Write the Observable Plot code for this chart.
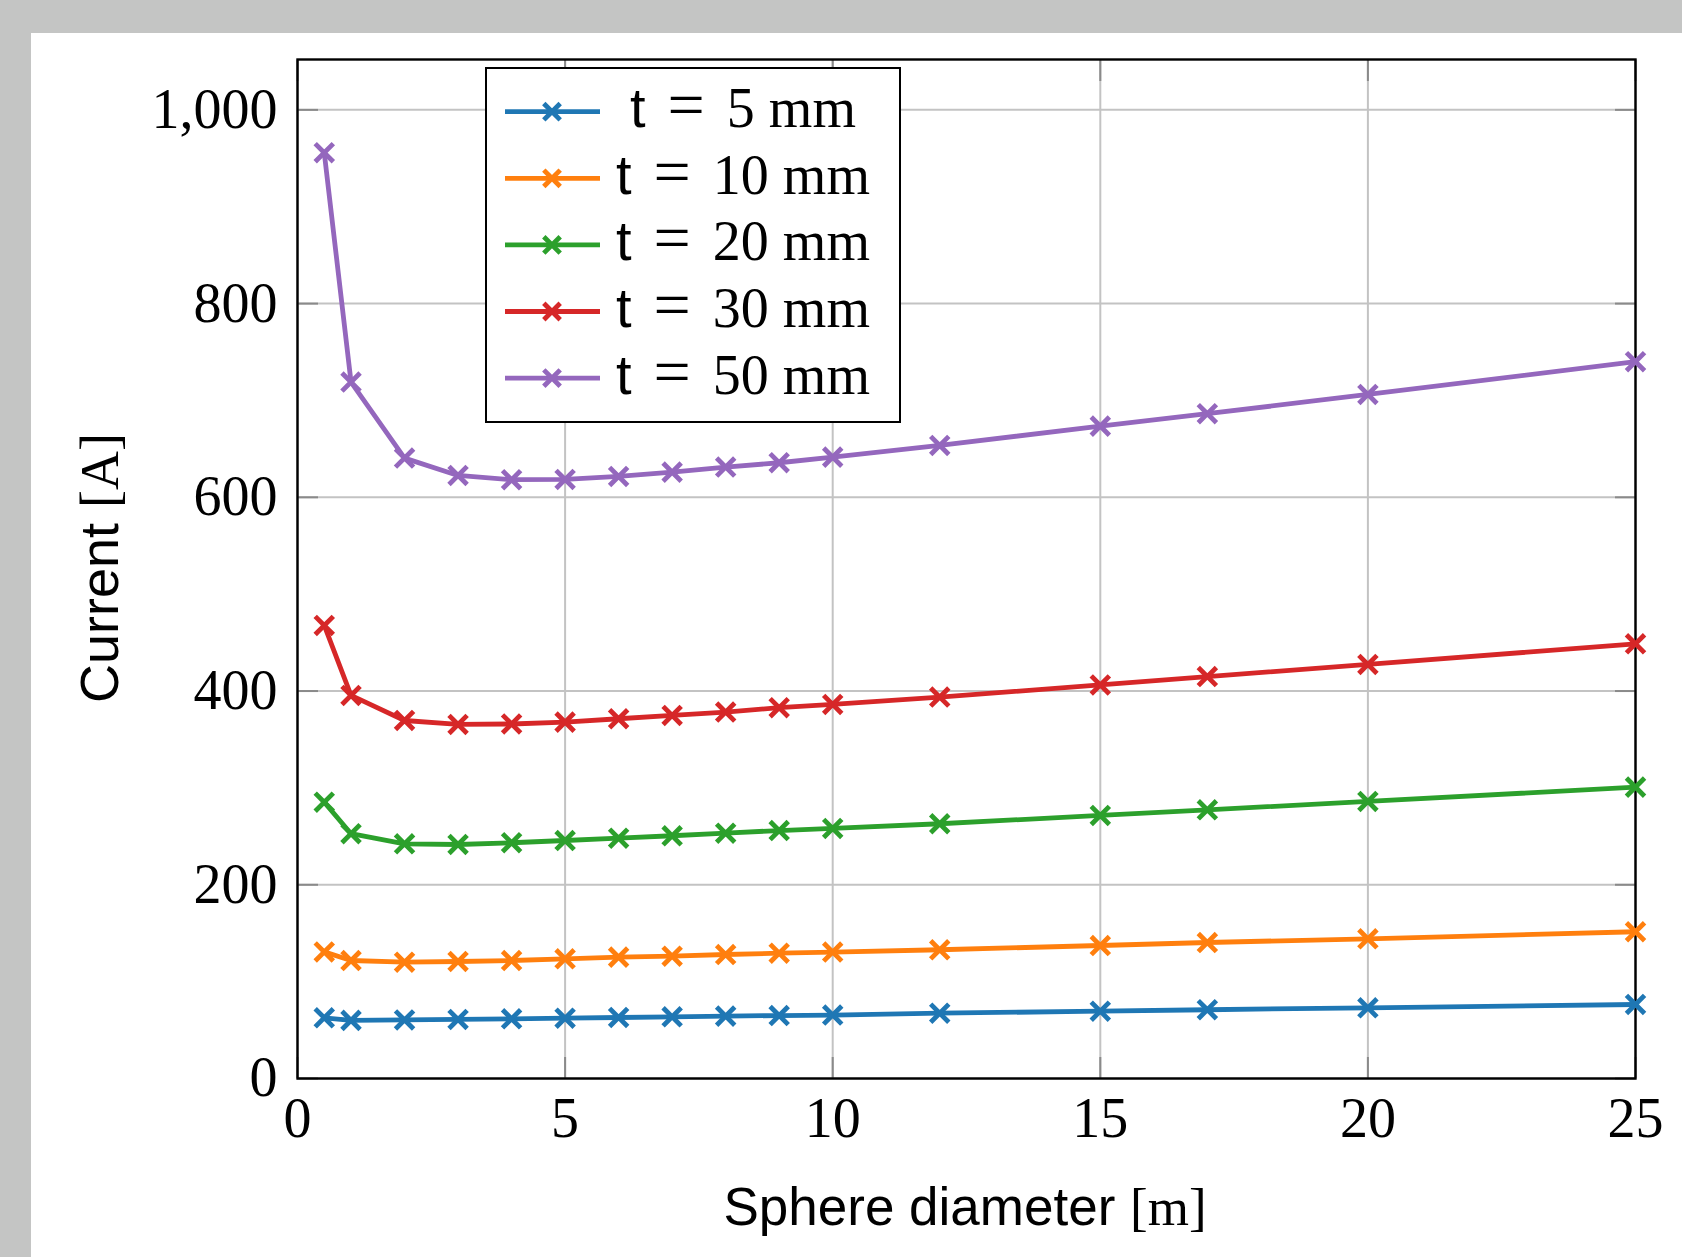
<!DOCTYPE html>
<html><head><meta charset="utf-8">
<script src="https://cdn.jsdelivr.net/npm/d3@7"></script>
<script src="https://cdn.jsdelivr.net/npm/@observablehq/plot@0.6"></script>
<style>
html,body{margin:0;padding:0;background:#c4c5c4;}
#page{position:relative;width:1682px;height:1257px;overflow:hidden;}
#paper{position:absolute;left:31px;top:33px;right:0;bottom:0;background:#fff;}
#chart{position:absolute;left:0;top:0;}
#overlay{position:absolute;left:0;top:0;}
</style></head><body>
<div id="page"><div id="paper"></div><div id="chart"></div><svg id="overlay" width="1682" height="1257"></svg></div>
<script>
// ---- data ----
const diameters = [0.5, 1, 2, 3, 4, 5, 6, 7, 8, 9, 10, 12, 15, 17, 20, 25];
const t5mm  = [62.7, 60.0, 60.5, 61.0, 61.6, 62.3, 63.0, 63.7, 64.4, 65.0, 65.5, 67.4, 69.5, 71.0, 73.0, 76.4];
const t10mm = [130.7, 121.8, 120.1, 120.8, 121.8, 123.6, 125.3, 126.3, 128.0, 129.4, 130.5, 132.9, 137.3, 140.4, 144.2, 151.5];
const t20mm = [285.3, 252.7, 242.3, 241.6, 243.4, 245.7, 248.1, 250.6, 253.3, 256.0, 258.2, 263.0, 271.6, 277.4, 286.0, 300.8];
const t30mm = [467.7, 395.5, 369.6, 365.5, 366.0, 367.9, 371.4, 374.8, 378.3, 382.8, 386.2, 393.8, 406.3, 415.0, 427.5, 448.8];
const t50mm = [955.8, 719.0, 640.5, 622.6, 618.2, 618.5, 621.6, 626.0, 631.2, 635.7, 641.5, 653.6, 673.5, 686.3, 706.2, 740.0];
const seriesValues = [t5mm, t10mm, t20mm, t30mm, t50mm];
const seriesNumbers = ["5", "10", "20", "30", "50"];
const seriesNames = ["t = 5 mm", "t = 10 mm", "t = 20 mm", "t = 30 mm", "t = 50 mm"];
const seriesColors = ["#1f77b4", "#ff7f0e", "#2ca02c", "#d62728", "#9467bd"];
const xTicks = [0, 5, 10, 15, 20, 25];
const yTicks = [0, 200, 400, 600, 800, 1000];
const xLabel = ["Sphere diameter ", "[m]"];
const yLabel = ["Current ", "[A]"];

const rows = seriesNames.flatMap((s, i) => diameters.map((d, j) => ({d, I: seriesValues[i][j], s})));

const SERIF = "'Liberation Serif', 'DejaVu Serif', serif";
const SANS = "'Liberation Sans', 'DejaVu Sans', sans-serif";
const FS = 56;
const LW = 4.8;

const chart = Plot.plot({
  width: 1682, height: 1257,
  marginLeft: 297, marginRight: 47, marginTop: 59, marginBottom: 179,
  x: {domain: [0, 25]},
  y: {domain: [0, 1052]},
  color: {domain: seriesNames, range: seriesColors},
  style: {background: "transparent", fontFamily: SERIF, fontSize: FS + "px", color: "black", overflow: "visible"},
  marks: [
    Plot.gridX(xTicks, {stroke: "#c3c3c3", strokeOpacity: 1, strokeWidth: 2}),
    Plot.gridY(yTicks, {stroke: "#c3c3c3", strokeOpacity: 1, strokeWidth: 2}),
    Plot.axisX(xTicks, {anchor: "bottom", tickSize: -21, stroke: "#8a8a8a", strokeWidth: 2, tickFormat: () => "", label: null}),
    Plot.axisX(xTicks, {anchor: "top", tickSize: -21, stroke: "#8a8a8a", strokeWidth: 2, tickFormat: () => "", label: null}),
    Plot.axisY(yTicks, {anchor: "left", tickSize: -21, stroke: "#8a8a8a", strokeWidth: 2, tickFormat: () => "", label: null}),
    Plot.axisY(yTicks, {anchor: "right", tickSize: -21, stroke: "#8a8a8a", strokeWidth: 2, tickFormat: () => "", label: null}),
    Plot.axisX(xTicks, {anchor: "bottom", tickSize: 0, tickPadding: 19, fontSize: FS, label: null}),
    Plot.axisY(yTicks, {anchor: "left", tickSize: 0, tickPadding: 20, fontSize: FS, tickFormat: d3.format(","), label: null}),
    Plot.frame({stroke: "black", strokeWidth: 2.4}),
    Plot.line(rows, {x: "d", y: "I", z: "s", stroke: "s", strokeWidth: LW}),
    Plot.dot(rows, {x: "d", y: "I", stroke: "s", symbol: "times", r: 8.3, strokeWidth: LW})
  ]
});
document.getElementById("chart").appendChild(chart);

// ---- overlay: axis labels and legend ----
const ov = d3.select("#overlay");
const xl = ov.append("text").attr("x", 965).attr("y", 1225).attr("text-anchor", "middle").attr("font-size", 53);
xl.append("tspan").attr("font-family", SANS).text(xLabel[0]);
xl.append("tspan").attr("font-family", SERIF).text(xLabel[1]);
const yl = ov.append("text").attr("transform", "translate(118,568) rotate(-90)").attr("text-anchor", "middle").attr("font-size", 54);
yl.append("tspan").attr("font-family", SANS).text(yLabel[0]);
yl.append("tspan").attr("font-family", SERIF).text(yLabel[1]);

const lg = ov.append("g");
lg.append("rect").attr("x", 486).attr("y", 68).attr("width", 414).attr("height", 354)
  .attr("fill", "white").attr("stroke", "black").attr("stroke-width", 2);
seriesNames.forEach((name, i) => {
  const cy = 111.7 + i * 66.6;
  const g = lg.append("g");
  g.append("line").attr("x1", 505).attr("x2", 600).attr("y1", cy).attr("y2", cy)
    .attr("stroke", seriesColors[i]).attr("stroke-width", LW);
  const h = 8.2;
  g.append("path").attr("d", `M${552-h},${cy-h}L${552+h},${cy+h}M${552-h},${cy+h}L${552+h},${cy-h}`)
    .attr("stroke", seriesColors[i]).attr("stroke-width", LW).attr("fill", "none");
  const t = g.append("text").attr("x", 743).attr("y", cy + 15.5).attr("text-anchor", "middle").attr("font-size", FS);
  t.append("tspan").attr("font-family", SANS).text("t");
  t.append("tspan").attr("font-family", SERIF).attr("font-size", 66).attr("dx", 22).text("=");
  t.append("tspan").attr("font-family", SERIF).attr("dx", 22).text(seriesNumbers[i]);
  t.append("tspan").attr("font-family", SERIF).attr("dx", 14).text("mm");
});
</script>
</body></html>
